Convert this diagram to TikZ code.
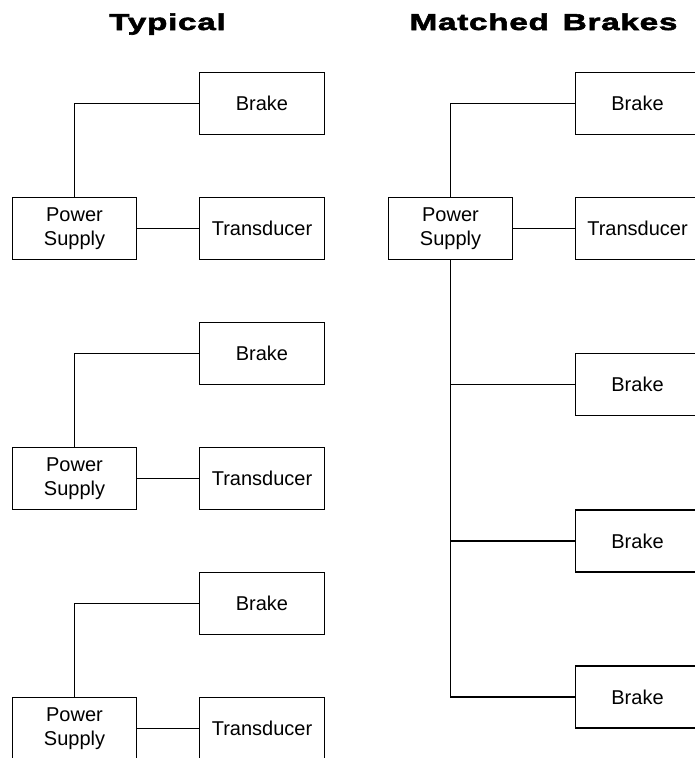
\documentclass[tikz,border=0pt]{standalone}
\usepackage{fontspec}
\setmainfont{Liberation Sans}
\newfontfamily\headfont[FakeStretch=1.45,LetterSpace=3,FakeBold=2.5]{Liberation Sans Bold}
\tikzset{
  box/.style={draw, line width=1.2pt, minimum width=124.5pt, minimum height=62pt,
    inner sep=0pt, align=center, font=\fontsize{20}{23.5}\selectfont},
  wire/.style={line width=1.2pt},
  heading/.style={anchor=base, font=\headfont\fontsize{23}{26}\selectfont}
}

\begin{document}
\begin{tikzpicture}[x=1pt,y=-1pt]
		\clip (0,0) rectangle (695,758);
		\node[heading] (typical) at (167.5,30) {Typical};
		\node[heading] (matched) at (543.5,30) {Matched\hspace{0.6em}Brakes};
		% typical: one supply per brake
		\foreach \g in {0,1,2}{
			\node[box] (ps\g) at (74.5,{228.5+250*\g}) {Power\\Supply};
			\node[box] (br\g) at (262,{103.5+250*\g}) {Brake};
			\node[box] (tr\g) at (262,{228.5+250*\g}) {Transducer};
			\draw[wire] (ps\g.north) |- (br\g.west);
			\draw[wire] (ps\g.east) -- (tr\g.west);
		}
		% matched brakes: one supply for all
		\node[box] (mps) at (450.5,228.5) {Power\\Supply};
		\node[box] (mtr) at (637.5,228.5) {Transducer};
		\node[box] (mb1) at (637.5,103.5) {Brake};
		\node[box] (mb2) at (637.5,384.5) {Brake};
		\node[box] (mb3) at (637.5,541) {Brake};
		\node[box] (mb4) at (637.5,697) {Brake};
		\draw[wire] (mps.north) |- (mb1.west);
		\draw[wire] (mps.east) -- (mtr.west);
		\draw[wire] (mps.south) |- (mb4.west);
		\draw[wire] (mps.south |- mb2.west) -- (mb2.west);
		\draw[wire] (mps.south |- mb3.west) -- (mb3.west);
	\end{tikzpicture}
\end{document}
